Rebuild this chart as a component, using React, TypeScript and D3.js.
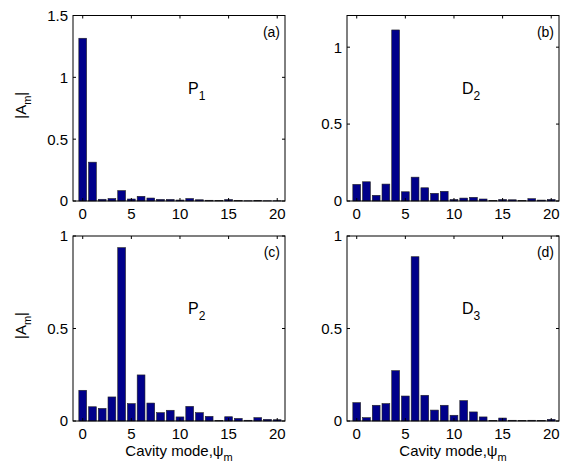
import * as d3 from 'd3';

// mode index 0..20
const modes = d3.range(0, 21);

// |A_m| for each excitation
const p1Values = [1.316, 0.314, 0.014, 0.02, 0.084, 0.016, 0.038, 0.024, 0.013, 0.013, 0.008, 0.02, 0.01, 0.006, 0.003, 0.012, 0.003, 0.002, 0.005, 0.002, 0.002];
const d2Values = [0.108, 0.125, 0.037, 0.11, 1.112, 0.06, 0.155, 0.086, 0.05, 0.063, 0.01, 0.019, 0.024, 0.013, 0.002, 0.01, 0.008, 0.002, 0.015, 0.006, 0.01];
const p2Values = [0.166, 0.077, 0.068, 0.13, 0.937, 0.094, 0.249, 0.097, 0.045, 0.058, 0.022, 0.079, 0.045, 0.025, 0.002, 0.023, 0.014, 0.004, 0.018, 0.009, 0.007];
const d3Values = [0.099, 0.018, 0.085, 0.094, 0.272, 0.135, 0.888, 0.139, 0.059, 0.085, 0.031, 0.11, 0.049, 0.022, 0.002, 0.016, 0.004, 0.002, 0.004, 0.002, 0.009];

const xTicks = [0, 5, 10, 15, 20];
const yTicksA = [0, 0.5, 1, 1.5];
const yTicksB = [0, 0.5, 1];
const yTicksCD = [0, 0.5, 1];

const panels = [
  { tag: '(a)', name: 'P', sub: '1', values: p1Values, yMax: 1.5, yTicks: yTicksA, left: 73, top: 15.5, bottom: 201, yLabel: true, xLabel: false },
  { tag: '(b)', name: 'D', sub: '2', values: d2Values, yMax: 1.206, yTicks: yTicksB, left: 347, top: 15.5, bottom: 201, yLabel: false, xLabel: false },
  { tag: '(c)', name: 'P', sub: '2', values: p2Values, yMax: 1, yTicks: yTicksCD, left: 73, top: 236, bottom: 421, yLabel: true, xLabel: true },
  { tag: '(d)', name: 'D', sub: '3', values: d3Values, yMax: 1, yTicks: yTicksCD, left: 347, top: 236, bottom: 421, yLabel: false, xLabel: true },
];

const W = 565;
const H = 473;
const panelWidth = 212;
const font = 'Arial, "Liberation Sans", Helvetica, sans-serif';
const tickLen = 3;

const fmt = (v: number) => (v === 0 ? '0' : String(v));

const Panel = ({ p }: { p: typeof panels[number] }) => {
  const x = d3.scaleLinear().domain([-1, 20.8]).range([p.left, p.left + panelWidth]);
  const y = d3.scaleLinear().domain([0, p.yMax]).range([p.bottom, p.top]);
  const bw = x(0.4) - x(-0.4);
  const right = p.left + panelWidth;
  const midY = (p.top + p.bottom) / 2;

  return (
    <g>
      {modes.map((m, i) => (
        <rect
          key={m}
          x={x(m) - bw / 2}
          y={y(p.values[i])}
          width={bw}
          height={y(0) - y(p.values[i])}
          fill="#00008a"
          stroke="#222"
          strokeWidth={0.6}
        />
      ))}
      <rect x={p.left} y={p.top} width={panelWidth} height={p.bottom - p.top} fill="none" stroke="#000" strokeWidth={1} />
      {xTicks.map((t) => (
        <g key={'x' + t}>
          <line x1={x(t)} x2={x(t)} y1={p.bottom} y2={p.bottom - tickLen} stroke="#000" />
          <line x1={x(t)} x2={x(t)} y1={p.top} y2={p.top + tickLen} stroke="#000" />
          <text x={x(t)} y={p.bottom + 18} textAnchor="middle" fontSize={15} fontFamily={font}>{t}</text>
        </g>
      ))}
      {p.yTicks.map((t) => (
        <g key={'y' + t}>
          <line x1={p.left} x2={p.left + tickLen} y1={y(t)} y2={y(t)} stroke="#000" />
          <line x1={right} x2={right - tickLen} y1={y(t)} y2={y(t)} stroke="#000" />
          <text x={p.left - 5} y={y(t) + 5.4} textAnchor="end" fontSize={15} fontFamily={font}>{fmt(t)}</text>
        </g>
      ))}
      <text x={right - 5} y={p.top + 21} textAnchor="end" fontSize={14} fontFamily={font}>{p.tag}</text>
      <text x={p.left + 115} y={p.top + 78} fontSize={16} fontFamily={font}>
        {p.name}
        <tspan dy={6} fontSize={12}>{p.sub}</tspan>
      </text>
      {p.yLabel && (
        <text transform={`translate(26,${midY - 3}) rotate(-90)`} textAnchor="middle" fontSize={15} fontFamily={font}>
          |A<tspan dy={5} fontSize={11}>m</tspan><tspan dy={-5}>|</tspan>
        </text>
      )}
      {p.xLabel && (
        <text x={p.left + panelWidth / 2} y={p.bottom + 35} textAnchor="middle" fontSize={15} fontFamily={font}>
          Cavity mode,ψ<tspan dy={5} fontSize={11}>m</tspan>
        </text>
      )}
    </g>
  );
};

export default function App() {
  return (
    <svg width={W} height={H} style={{ position: 'absolute', left: 0, top: 0, background: '#fff' }}>
      {panels.map((p) => (
        <Panel key={p.tag} p={p} />
      ))}
    </svg>
  );
}
